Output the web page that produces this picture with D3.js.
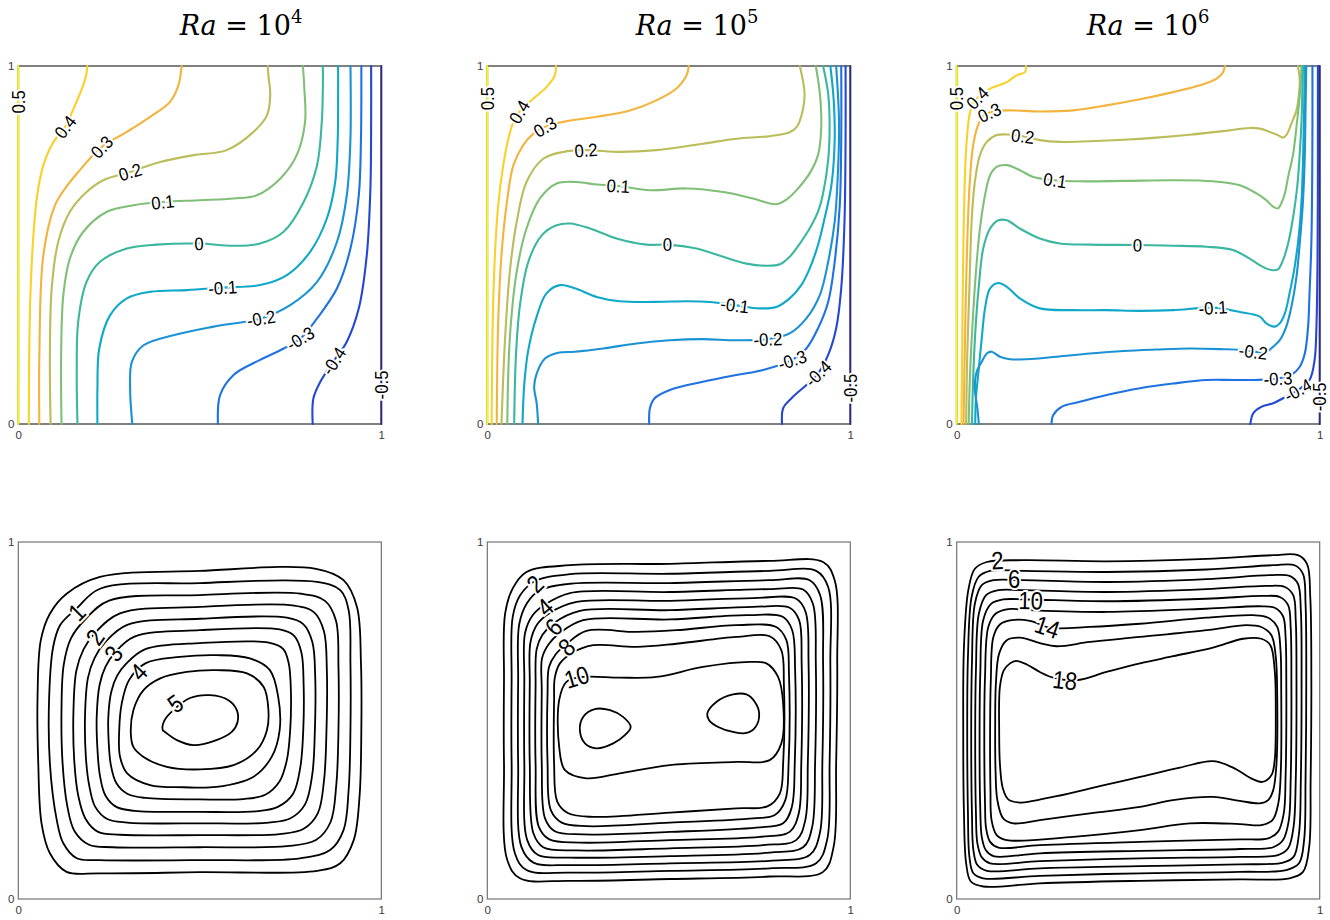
<!DOCTYPE html>
<html><head><meta charset="utf-8">
<script src="https://cdn.jsdelivr.net/npm/d3@7"></script>
<style>body{margin:0;background:#fff}svg{display:block}</style>
</head><body><svg id="c" width="1330" height="920"></svg>
<script>
// ---------------- DATA (unit-square coordinates) ----------------
const raExponents = ["4", "5", "6"];
const tempLevels = [0.5, 0.4, 0.3, 0.2, 0.1, 0, -0.1, -0.2, -0.3, -0.4, -0.5];
const axisTicks = [0, 1];

const tempRa1e4 = [
 {level:0.5, pts:[[0,0],[0,1]]},
 {level:0.4, pts:[[0.029,0],[0.030,0.193],[0.034,0.379],[0.041,0.518],[0.052,0.639],[0.069,0.723],[0.097,0.788],[0.129,0.830],[0.156,0.890],[0.177,0.941],[0.187,0.974],[0.190,1]]},
 {level:0.3, pts:[[0.058,0],[0.058,0.193],[0.069,0.472],[0.101,0.611],[0.129,0.658],[0.165,0.704],[0.230,0.774],[0.299,0.816],[0.363,0.858],[0.418,0.900],[0.441,0.946],[0.450,1]]},
 {level:0.2, pts:[[0.089,0],[0.087,0.193],[0.092,0.379],[0.110,0.509],[0.142,0.593],[0.188,0.648],[0.234,0.681],[0.308,0.704],[0.391,0.732],[0.483,0.751],[0.574,0.765],[0.648,0.816],[0.685,0.862],[0.694,0.918],[0.689,0.974],[0.687,1]]},
 {level:0.1, pts:[[0.119,0],[0.118,0.193],[0.124,0.360],[0.142,0.462],[0.179,0.537],[0.244,0.593],[0.317,0.611],[0.398,0.620],[0.501,0.625],[0.593,0.630],[0.657,0.639],[0.722,0.686],[0.767,0.751],[0.790,0.844],[0.788,0.937],[0.784,1]]},
 {level:0, pts:[[0.163,0],[0.161,0.146],[0.165,0.286],[0.188,0.397],[0.225,0.453],[0.299,0.490],[0.381,0.501],[0.498,0.504],[0.593,0.498],[0.666,0.504],[0.731,0.537],[0.786,0.620],[0.823,0.723],[0.836,0.844],[0.839,0.937],[0.839,1]]},
 {level:-0.1, pts:[[0.218,0],[0.218,0.100],[0.223,0.211],[0.253,0.304],[0.299,0.351],[0.363,0.369],[0.464,0.374],[0.563,0.381],[0.666,0.388],[0.740,0.416],[0.804,0.481],[0.850,0.574],[0.873,0.676],[0.880,0.797],[0.881,0.918],[0.881,1]]},
 {level:-0.2, pts:[[0.314,0],[0.308,0.100],[0.313,0.174],[0.345,0.220],[0.427,0.248],[0.538,0.272],[0.669,0.295],[0.749,0.332],[0.823,0.397],[0.878,0.509],[0.905,0.639],[0.915,0.797],[0.915,1]]},
 {level:-0.3, pts:[[0.550,0],[0.556,0.081],[0.593,0.137],[0.666,0.179],[0.731,0.211],[0.777,0.239],[0.823,0.295],[0.878,0.379],[0.915,0.490],[0.938,0.639],[0.944,0.797],[0.945,1]]},
 {level:-0.4, pts:[[0.811,0],[0.813,0.072],[0.832,0.118],[0.869,0.176],[0.905,0.230],[0.938,0.323],[0.960,0.472],[0.970,0.658],[0.972,0.844],[0.972,1]]},
 {level:-0.5, pts:[[1,0],[1,1]]}
];
const tempLabelsRa1e4 = [[0.5,0,0.9],[0.4,0.129,0.830],[0.3,0.230,0.774],[0.2,0.308,0.704],[0.1,0.398,0.620],[0,0.498,0.504],[-0.1,0.563,0.381],[-0.2,0.669,0.295],[-0.3,0.777,0.239],[-0.4,0.869,0.176],[-0.5,1,0.109]];

const tempRa1e5 = [
 {level:0.5, pts:[[0,0],[0,1]]},
 {level:0.4, pts:[[0.012,0],[0.015,0.286],[0.021,0.472],[0.030,0.611],[0.044,0.723],[0.058,0.797],[0.072,0.844],[0.088,0.872],[0.127,0.909],[0.163,0.941],[0.186,0.974],[0.189,1]]},
 {level:0.3, pts:[[0.026,0],[0.030,0.286],[0.039,0.472],[0.053,0.611],[0.072,0.723],[0.099,0.779],[0.127,0.811],[0.159,0.830],[0.209,0.844],[0.301,0.858],[0.393,0.876],[0.466,0.904],[0.521,0.937],[0.549,0.974],[0.555,1]]},
 {level:0.2, pts:[[0.039,0],[0.049,0.239],[0.062,0.425],[0.081,0.565],[0.108,0.676],[0.154,0.741],[0.209,0.760],[0.272,0.765],[0.365,0.760],[0.466,0.765],[0.594,0.783],[0.686,0.797],[0.778,0.804],[0.833,0.815],[0.852,0.829],[0.869,0.876],[0.874,0.924],[0.861,1]]},
 {level:0.1, pts:[[0.055,0],[0.062,0.239],[0.081,0.425],[0.108,0.546],[0.145,0.630],[0.191,0.672],[0.246,0.676],[0.301,0.669],[0.361,0.665],[0.448,0.653],[0.549,0.658],[0.650,0.648],[0.732,0.630],[0.796,0.614],[0.828,0.630],[0.856,0.658],[0.888,0.700],[0.911,0.751],[0.920,0.830],[0.916,0.924],[0.905,1]]},
 {level:0, pts:[[0.074,0],[0.079,0.193],[0.090,0.332],[0.113,0.453],[0.150,0.527],[0.191,0.555],[0.228,0.560],[0.283,0.546],[0.356,0.518],[0.439,0.501],[0.496,0.501],[0.576,0.490],[0.650,0.467],[0.714,0.448],[0.769,0.442],[0.806,0.446],[0.833,0.467],[0.861,0.504],[0.888,0.546],[0.911,0.593],[0.925,0.644],[0.939,0.737],[0.943,0.830],[0.939,0.923],[0.925,1]]},
 {level:-0.1, pts:[[0.097,0],[0.102,0.113],[0.113,0.207],[0.136,0.300],[0.163,0.365],[0.200,0.388],[0.241,0.379],[0.301,0.355],[0.365,0.343],[0.457,0.341],[0.549,0.343],[0.613,0.341],[0.682,0.332],[0.750,0.323],[0.796,0.327],[0.833,0.351],[0.865,0.388],[0.888,0.434],[0.911,0.500],[0.929,0.574],[0.948,0.667],[0.957,0.797],[0.954,0.909],[0.945,1]]},
 {level:-0.2, pts:[[0.140,0],[0.136,0.058],[0.129,0.104],[0.136,0.141],[0.159,0.183],[0.195,0.199],[0.241,0.202],[0.319,0.211],[0.411,0.225],[0.503,0.234],[0.594,0.237],[0.686,0.234],[0.773,0.237],[0.833,0.253],[0.879,0.295],[0.916,0.360],[0.939,0.453],[0.957,0.565],[0.966,0.704],[0.969,0.844],[0.961,1]]},
 {level:-0.3, pts:[[0.446,0],[0.448,0.044],[0.461,0.072],[0.503,0.095],[0.594,0.118],[0.686,0.137],[0.760,0.151],[0.840,0.179],[0.879,0.211],[0.911,0.267],[0.939,0.341],[0.957,0.453],[0.971,0.611],[0.975,0.797],[0.975,1]]},
 {level:-0.4, pts:[[0.812,0],[0.815,0.044],[0.838,0.072],[0.879,0.109],[0.911,0.141],[0.939,0.193],[0.961,0.267],[0.975,0.379],[0.984,0.565],[0.987,0.797],[0.987,1]]},
 {level:-0.5, pts:[[1,0],[1,1]]}
];
const tempLabelsRa1e5 = [[0.5,0,0.909],[0.4,0.088,0.872],[0.3,0.159,0.830],[0.2,0.272,0.765],[0.1,0.361,0.665],[0,0.496,0.501],[-0.1,0.682,0.332],[-0.2,0.773,0.237],[-0.3,0.840,0.179],[-0.4,0.911,0.141],[-0.5,1,0.100]];

const tempRa1e6 = [
 {level:0.5, pts:[[0,0],[0,1]]},
 {level:0.4, pts:[[0.013,0],[0.015,0.193],[0.018,0.472],[0.023,0.704],[0.028,0.797],[0.035,0.862],[0.046,0.900],[0.057,0.911],[0.092,0.937],[0.138,0.955],[0.165,0.974],[0.188,0.983],[0.191,1]]},
 {level:0.3, pts:[[0.019,0],[0.022,0.193],[0.028,0.472],[0.035,0.658],[0.044,0.769],[0.057,0.830],[0.073,0.862],[0.090,0.870],[0.138,0.876],[0.229,0.873],[0.321,0.876],[0.413,0.890],[0.505,0.907],[0.596,0.927],[0.670,0.946],[0.716,0.965],[0.734,0.983],[0.739,1]]},
 {level:0.2, pts:[[0.026,0],[0.029,0.193],[0.035,0.379],[0.041,0.565],[0.050,0.676],[0.064,0.751],[0.083,0.788],[0.110,0.807],[0.147,0.808],[0.182,0.804],[0.229,0.793],[0.284,0.788],[0.367,0.790],[0.459,0.794],[0.550,0.800],[0.642,0.808],[0.734,0.818],[0.807,0.827],[0.835,0.825],[0.862,0.816],[0.885,0.807],[0.899,0.800],[0.908,0.807],[0.922,0.839],[0.936,0.876],[0.943,0.923],[0.945,0.960],[0.940,1]]},
 {level:0.1, pts:[[0.033,0],[0.037,0.146],[0.044,0.286],[0.053,0.425],[0.064,0.546],[0.078,0.639],[0.092,0.695],[0.110,0.718],[0.138,0.723],[0.174,0.709],[0.211,0.690],[0.271,0.681],[0.339,0.678],[0.459,0.679],[0.596,0.681],[0.706,0.678],[0.780,0.667],[0.826,0.644],[0.853,0.625],[0.872,0.607],[0.885,0.602],[0.894,0.616],[0.904,0.644],[0.913,0.690],[0.927,0.755],[0.936,0.830],[0.943,0.895],[0.947,0.941],[0.950,1]]},
 {level:0, pts:[[0.042,0],[0.046,0.146],[0.053,0.286],[0.062,0.397],[0.073,0.490],[0.092,0.546],[0.115,0.569],[0.138,0.569],[0.174,0.546],[0.229,0.518],[0.284,0.504],[0.367,0.501],[0.498,0.500],[0.596,0.498],[0.688,0.495],[0.761,0.486],[0.807,0.462],[0.839,0.441],[0.867,0.430],[0.885,0.432],[0.899,0.458],[0.913,0.504],[0.927,0.579],[0.938,0.662],[0.945,0.755],[0.950,0.848],[0.952,0.923],[0.954,1]]},
 {level:-0.1, pts:[[0.051,0],[0.053,0.072],[0.060,0.146],[0.069,0.239],[0.078,0.323],[0.092,0.379],[0.115,0.394],[0.138,0.383],[0.174,0.351],[0.229,0.323],[0.321,0.318],[0.413,0.318],[0.505,0.316],[0.596,0.318],[0.706,0.325],[0.780,0.313],[0.835,0.300],[0.853,0.281],[0.876,0.272],[0.890,0.281],[0.904,0.309],[0.917,0.365],[0.931,0.439],[0.943,0.532],[0.950,0.625],[0.954,0.737],[0.957,0.876],[0.959,1]]},
 {level:-0.2, pts:[[0.061,0],[0.057,0.044],[0.050,0.100],[0.055,0.146],[0.069,0.174],[0.083,0.197],[0.096,0.202],[0.119,0.188],[0.147,0.181],[0.193,0.181],[0.275,0.188],[0.367,0.197],[0.459,0.204],[0.550,0.208],[0.642,0.211],[0.734,0.209],[0.780,0.207],[0.817,0.202],[0.853,0.202],[0.872,0.216],[0.890,0.234],[0.908,0.272],[0.922,0.327],[0.936,0.411],[0.945,0.504],[0.954,0.625],[0.959,0.755],[0.961,0.876],[0.963,1]]},
 {level:-0.3, pts:[[0.261,0],[0.266,0.025],[0.289,0.048],[0.339,0.062],[0.413,0.081],[0.505,0.100],[0.596,0.113],[0.688,0.123],[0.761,0.123],[0.817,0.123],[0.885,0.127],[0.927,0.141],[0.945,0.160],[0.959,0.197],[0.968,0.272],[0.972,0.365],[0.977,0.504],[0.979,0.644],[0.980,0.830],[0.980,1]]},
 {level:-0.4, pts:[[0.809,0],[0.817,0.030],[0.839,0.048],[0.872,0.058],[0.899,0.072],[0.940,0.095],[0.972,0.123],[0.986,0.179],[0.991,0.272],[0.994,0.458],[0.995,0.737],[0.995,1]]},
 {level:-0.5, pts:[[1,0],[1,1]]}
];
const tempLabelsRa1e6 = [[0.5,0,0.909],[0.4,0.057,0.911],[0.3,0.090,0.870],[0.2,0.182,0.804],[0.1,0.271,0.681],[0,0.498,0.500],[-0.1,0.706,0.325],[-0.2,0.817,0.202],[-0.3,0.885,0.127],[-0.4,0.940,0.095],[-0.5,1,0.076]];

// streamfunction contours (closed loops)
const psiRa1e4 = [
 {level:0.5, pts:[[0.225,0.902],[0.50,0.919],[0.82,0.925],[0.896,0.893],[0.933,0.818],[0.944,0.66],[0.945,0.473],[0.940,0.286],[0.924,0.165],[0.887,0.100],[0.823,0.079],[0.50,0.075],[0.225,0.072],[0.133,0.076],[0.087,0.128],[0.064,0.212],[0.055,0.38],[0.053,0.566],[0.062,0.725],[0.087,0.799],[0.133,0.855]]},
 {level:1, pts:[[0.225,0.869],[0.50,0.885],[0.823,0.888],[0.887,0.865],[0.910,0.809],[0.915,0.66],[0.915,0.473],[0.910,0.305],[0.896,0.193],[0.859,0.137],[0.776,0.114],[0.50,0.109],[0.225,0.109],[0.161,0.114],[0.124,0.156],[0.106,0.221],[0.087,0.38],[0.085,0.566],[0.096,0.706],[0.115,0.767],[0.161,0.814]]},
 {level:1.5, pts:[[0.25,0.836],[0.50,0.851],[0.78,0.855],[0.845,0.835],[0.875,0.78],[0.882,0.65],[0.882,0.473],[0.876,0.32],[0.86,0.215],[0.82,0.165],[0.74,0.148],[0.50,0.145],[0.26,0.145],[0.195,0.152],[0.155,0.19],[0.135,0.26],[0.122,0.38],[0.119,0.53],[0.125,0.655],[0.145,0.73],[0.186,0.785]]},
 {level:2, pts:[[0.28,0.80],[0.50,0.818],[0.76,0.822],[0.815,0.803],[0.842,0.75],[0.850,0.64],[0.849,0.473],[0.842,0.33],[0.825,0.24],[0.785,0.196],[0.72,0.182],[0.50,0.179],[0.28,0.18],[0.22,0.188],[0.185,0.225],[0.165,0.29],[0.154,0.39],[0.152,0.53],[0.160,0.64],[0.180,0.70],[0.211,0.745]]},
 {level:2.5, pts:[[0.30,0.768],[0.50,0.785],[0.74,0.788],[0.785,0.77],[0.81,0.72],[0.818,0.62],[0.817,0.473],[0.81,0.35],[0.79,0.265],[0.75,0.226],[0.69,0.214],[0.50,0.212],[0.30,0.214],[0.245,0.224],[0.212,0.258],[0.195,0.32],[0.186,0.40],[0.184,0.52],[0.192,0.62],[0.21,0.675],[0.24,0.72]]},
 {level:3, pts:[[0.32,0.735],[0.50,0.753],[0.72,0.755],[0.76,0.737],[0.78,0.69],[0.786,0.60],[0.785,0.473],[0.777,0.37],[0.757,0.295],[0.715,0.258],[0.66,0.246],[0.50,0.244],[0.32,0.247],[0.27,0.258],[0.24,0.29],[0.225,0.345],[0.218,0.42],[0.216,0.51],[0.224,0.60],[0.240,0.65],[0.266,0.69]]},
 {level:3.5, pts:[[0.35,0.700],[0.50,0.717],[0.69,0.718],[0.73,0.70],[0.745,0.66],[0.751,0.58],[0.749,0.473],[0.74,0.39],[0.72,0.33],[0.68,0.292],[0.62,0.28],[0.50,0.279],[0.35,0.283],[0.30,0.295],[0.27,0.325],[0.255,0.375],[0.249,0.44],[0.248,0.51],[0.256,0.58],[0.272,0.625],[0.298,0.66]]},
 {level:4, pts:[[0.35,0.66],[0.445,0.678],[0.546,0.683],[0.638,0.674],[0.693,0.641],[0.716,0.566],[0.720,0.473],[0.698,0.398],[0.647,0.342],[0.546,0.314],[0.455,0.313],[0.363,0.319],[0.30,0.352],[0.28,0.40],[0.278,0.473],[0.285,0.548],[0.305,0.613]]},
 {level:4.5, pts:[[0.310,0.464],[0.317,0.529],[0.345,0.585],[0.391,0.618],[0.464,0.636],[0.547,0.641],[0.630,0.632],[0.676,0.594],[0.689,0.529],[0.685,0.473],[0.657,0.417],[0.593,0.375],[0.501,0.363],[0.409,0.370],[0.345,0.398],[0.317,0.426]]},
 {level:5, pts:[[0.398,0.473],[0.402,0.499],[0.427,0.529],[0.473,0.563],[0.528,0.571],[0.579,0.557],[0.602,0.529],[0.604,0.496],[0.588,0.468],[0.538,0.442],[0.483,0.431],[0.437,0.445],[0.404,0.468]]}
];
const psiLabelsRa1e4 = [[1,0.161,0.804],[2,0.211,0.734],[3,0.262,0.688],[4,0.331,0.636],[5,0.432,0.548]];

const psiRa1e5 = [
 {level:1, pts:[[0.049,0.799],[0.070,0.870],[0.108,0.916],[0.228,0.935],[0.503,0.939],[0.778,0.947],[0.925,0.944],[0.957,0.893],[0.964,0.660],[0.961,0.380],[0.954,0.146],[0.925,0.076],[0.778,0.063],[0.503,0.056],[0.228,0.051],[0.090,0.058],[0.055,0.109],[0.046,0.380],[0.046,0.613]]},
 {level:2, pts:[[0.070,0.790],[0.090,0.850],[0.131,0.890],[0.228,0.910],[0.503,0.911],[0.778,0.919],[0.906,0.919],[0.939,0.874],[0.945,0.660],[0.943,0.380],[0.936,0.165],[0.906,0.100],[0.778,0.086],[0.503,0.079],[0.228,0.074],[0.108,0.081],[0.076,0.128],[0.067,0.380],[0.067,0.613]]},
 {level:3, pts:[[0.088,0.770],[0.110,0.830],[0.145,0.865],[0.228,0.883],[0.503,0.885],[0.778,0.893],[0.888,0.893],[0.917,0.851],[0.925,0.660],[0.923,0.380],[0.916,0.184],[0.888,0.123],[0.778,0.107],[0.503,0.100],[0.228,0.095],[0.127,0.102],[0.094,0.146],[0.085,0.380],[0.085,0.613]]},
 {level:4, pts:[[0.104,0.745],[0.125,0.795],[0.159,0.825],[0.228,0.857],[0.503,0.860],[0.778,0.868],[0.870,0.867],[0.897,0.827],[0.905,0.660],[0.903,0.380],[0.895,0.202],[0.870,0.145],[0.778,0.130],[0.503,0.120],[0.228,0.116],[0.140,0.123],[0.110,0.165],[0.102,0.380],[0.102,0.613]]},
 {level:5, pts:[[0.119,0.720],[0.138,0.770],[0.170,0.800],[0.246,0.832],[0.503,0.835],[0.732,0.843],[0.851,0.841],[0.877,0.804],[0.885,0.660],[0.883,0.380],[0.876,0.221],[0.851,0.165],[0.760,0.151],[0.503,0.142],[0.246,0.136],[0.154,0.145],[0.127,0.184],[0.117,0.380],[0.117,0.604]]},
 {level:6, pts:[[0.136,0.700],[0.152,0.740],[0.182,0.772],[0.255,0.807],[0.503,0.809],[0.732,0.818],[0.833,0.816],[0.859,0.781],[0.866,0.660],[0.865,0.380],[0.858,0.240],[0.833,0.188],[0.750,0.174],[0.503,0.165],[0.255,0.158],[0.171,0.167],[0.142,0.202],[0.133,0.380],[0.133,0.594]]},
 {level:7, pts:[[0.151,0.675],[0.170,0.715],[0.200,0.745],[0.264,0.781],[0.503,0.783],[0.714,0.795],[0.815,0.790],[0.840,0.753],[0.848,0.641],[0.847,0.380],[0.839,0.258],[0.815,0.212],[0.741,0.200],[0.503,0.188],[0.264,0.181],[0.186,0.190],[0.159,0.226],[0.150,0.380],[0.150,0.585]]},
 {level:8, pts:[[0.170,0.650],[0.188,0.685],[0.218,0.714],[0.273,0.751],[0.411,0.748],[0.521,0.753],[0.686,0.767],[0.796,0.762],[0.824,0.725],[0.831,0.632],[0.830,0.380],[0.821,0.277],[0.792,0.235],[0.732,0.226],[0.503,0.214],[0.273,0.204],[0.205,0.214],[0.175,0.249],[0.166,0.380],[0.166,0.576]]},
 {level:9, pts:[[0.186,0.620],[0.200,0.660],[0.235,0.690],[0.292,0.711],[0.411,0.706],[0.521,0.715],[0.686,0.734],[0.778,0.736],[0.810,0.697],[0.817,0.604],[0.815,0.380],[0.806,0.296],[0.773,0.260],[0.686,0.254],[0.503,0.242],[0.292,0.230],[0.223,0.240],[0.193,0.272],[0.184,0.380],[0.184,0.557]]},
 {level:10, pts:[[0.198,0.557],[0.218,0.608],[0.264,0.622],[0.365,0.620],[0.466,0.622],[0.594,0.650],[0.723,0.664],[0.769,0.660],[0.801,0.622],[0.815,0.548],[0.810,0.436],[0.778,0.389],[0.686,0.384],[0.503,0.375],[0.365,0.352],[0.273,0.338],[0.214,0.361],[0.198,0.426]]},
 {level:11, pts:[[0.255,0.473],[0.264,0.510],[0.296,0.532],[0.338,0.529],[0.374,0.510],[0.395,0.482],[0.379,0.459],[0.347,0.436],[0.301,0.422],[0.269,0.436]]},
 {level:11, pts:[[0.606,0.520],[0.631,0.552],[0.677,0.573],[0.714,0.573],[0.737,0.552],[0.749,0.520],[0.739,0.482],[0.714,0.465],[0.677,0.468],[0.636,0.482],[0.611,0.501]]}
];
const psiLabelsRa1e5 = [[2,0.131,0.883],[4,0.159,0.818],[6,0.182,0.762],[8,0.218,0.706],[10,0.246,0.622]];

const psiRa1e6 = [
 {level:2, pts:[[0.018,0.473],[0.020,0.706],[0.032,0.865],[0.050,0.925],[0.083,0.944],[0.183,0.949],[0.413,0.946],[0.688,0.953],[0.872,0.963],[0.940,0.963],[0.965,0.939],[0.974,0.846],[0.977,0.613],[0.975,0.333],[0.971,0.146],[0.954,0.076],[0.917,0.058],[0.780,0.055],[0.505,0.051],[0.229,0.044],[0.073,0.035],[0.039,0.049],[0.026,0.100],[0.020,0.240]]},
 {level:4, pts:[[0.029,0.473],[0.031,0.678],[0.041,0.846],[0.060,0.902],[0.092,0.919],[0.183,0.919],[0.413,0.916],[0.688,0.923],[0.872,0.935],[0.931,0.935],[0.954,0.911],[0.961,0.827],[0.963,0.613],[0.961,0.333],[0.957,0.165],[0.943,0.100],[0.908,0.081],[0.780,0.076],[0.505,0.072],[0.229,0.065],[0.073,0.058],[0.046,0.072],[0.035,0.118],[0.031,0.240]]},
 {level:6, pts:[[0.040,0.473],[0.042,0.660],[0.050,0.827],[0.069,0.879],[0.101,0.893],[0.183,0.893],[0.413,0.888],[0.688,0.896],[0.862,0.907],[0.917,0.905],[0.940,0.883],[0.948,0.809],[0.950,0.613],[0.948,0.333],[0.943,0.184],[0.928,0.118],[0.899,0.102],[0.780,0.097],[0.505,0.092],[0.229,0.086],[0.083,0.079],[0.057,0.095],[0.046,0.137],[0.042,0.240]]},
 {level:8, pts:[[0.051,0.473],[0.053,0.641],[0.061,0.799],[0.081,0.851],[0.115,0.865],[0.183,0.865],[0.413,0.860],[0.688,0.868],[0.853,0.877],[0.904,0.874],[0.927,0.851],[0.934,0.781],[0.936,0.613],[0.934,0.333],[0.928,0.202],[0.913,0.142],[0.885,0.123],[0.780,0.118],[0.505,0.114],[0.229,0.106],[0.092,0.100],[0.069,0.117],[0.057,0.156],[0.053,0.240]]},
 {level:10, pts:[[0.063,0.473],[0.065,0.632],[0.073,0.781],[0.094,0.826],[0.128,0.839],[0.193,0.839],[0.413,0.834],[0.688,0.841],[0.844,0.849],[0.890,0.846],[0.913,0.823],[0.920,0.762],[0.922,0.613],[0.920,0.333],[0.915,0.221],[0.899,0.165],[0.872,0.145],[0.780,0.140],[0.505,0.135],[0.229,0.128],[0.101,0.120],[0.080,0.137],[0.069,0.174],[0.065,0.249]]},
 {level:12, pts:[[0.076,0.473],[0.078,0.622],[0.087,0.762],[0.107,0.799],[0.142,0.812],[0.202,0.809],[0.413,0.804],[0.688,0.813],[0.835,0.820],[0.876,0.816],[0.899,0.792],[0.906,0.734],[0.908,0.613],[0.906,0.342],[0.901,0.240],[0.885,0.188],[0.858,0.170],[0.780,0.167],[0.505,0.160],[0.229,0.151],[0.115,0.144],[0.092,0.160],[0.081,0.198],[0.078,0.268]]},
 {level:14, pts:[[0.092,0.473],[0.094,0.613],[0.101,0.734],[0.119,0.769],[0.151,0.781],[0.202,0.779],[0.257,0.760],[0.367,0.762],[0.505,0.771],[0.688,0.788],[0.817,0.795],[0.858,0.788],[0.883,0.762],[0.892,0.697],[0.894,0.585],[0.893,0.361],[0.886,0.268],[0.870,0.221],[0.839,0.207],[0.780,0.210],[0.642,0.212],[0.505,0.193],[0.321,0.174],[0.138,0.165],[0.110,0.179],[0.096,0.221],[0.093,0.305]]},
 {level:16, pts:[[0.106,0.473],[0.108,0.604],[0.117,0.688],[0.138,0.725],[0.174,0.732],[0.229,0.717],[0.275,0.708],[0.367,0.720],[0.505,0.734],[0.688,0.753],[0.798,0.767],[0.839,0.762],[0.867,0.739],[0.879,0.678],[0.883,0.566],[0.881,0.380],[0.872,0.305],[0.858,0.277],[0.835,0.268],[0.780,0.275],[0.706,0.286],[0.596,0.277],[0.505,0.258],[0.367,0.240],[0.229,0.221],[0.156,0.212],[0.128,0.226],[0.112,0.277],[0.107,0.361]]},
 {level:18, pts:[[0.117,0.473],[0.119,0.594],[0.130,0.641],[0.147,0.660],[0.163,0.667],[0.193,0.657],[0.229,0.636],[0.266,0.620],[0.330,0.613],[0.413,0.636],[0.505,0.660],[0.596,0.680],[0.706,0.704],[0.789,0.729],[0.839,0.729],[0.864,0.711],[0.876,0.641],[0.879,0.520],[0.876,0.389],[0.867,0.347],[0.842,0.328],[0.817,0.335],[0.761,0.368],[0.706,0.386],[0.615,0.368],[0.505,0.342],[0.394,0.316],[0.275,0.288],[0.211,0.275],[0.174,0.270],[0.142,0.279],[0.127,0.310],[0.119,0.380]]}
];
const psiLabelsRa1e6 = [[2,0.112,0.949],[6,0.158,0.897],[10,0.204,0.837],[14,0.250,0.762],[18,0.298,0.613]];

// ---------------- RENDERING ----------------
const svg = d3.select("#c");
const parula = ["#f9fb0e","#f8d12a","#f2b43e","#bbbc5a","#80bf78","#3bb69f","#10a8c8","#1a92d4","#1f72e0","#2447d4","#2e2a80"];
const tempColor = d3.scaleOrdinal(tempLevels, parula);

const panelLefts = [18.3, 487.3, 956.7];
const panelW = 363;
const rows = [{top: 66, h: 358}, {top: 542, h: 357}];
const titleCenters = [241, 697, 1148];

const tempSets = [[tempRa1e4, tempLabelsRa1e4],[tempRa1e5, tempLabelsRa1e5],[tempRa1e6, tempLabelsRa1e6]];
const psiSets = [[psiRa1e4, psiLabelsRa1e4],[psiRa1e5, psiLabelsRa1e5],[psiRa1e6, psiLabelsRa1e6]];

function makePanel(left, top, w, h, frameW) {
  const g = svg.append("g").attr("transform", `translate(${left},${top})`);
  const x = d3.scaleLinear([0, 1], [0, w]);
  const y = d3.scaleLinear([0, 1], [h, 0]);
  g.append("rect").attr("width", w).attr("height", h)
    .attr("fill", "none").attr("stroke", "#737373").attr("stroke-width", frameW);
  const ax = g.append("g").attr("transform", `translate(0,${h})`)
    .call(d3.axisBottom(x).tickValues(axisTicks).tickFormat(d3.format("d")).tickSize(0).tickPadding(7));
  const ay = g.append("g")
    .call(d3.axisLeft(y).tickValues(axisTicks).tickFormat(d3.format("d")).tickSize(0).tickPadding(4));
  [ax, ay].forEach(a => {
    a.select(".domain").remove();
    a.selectAll("text").attr("fill", "#3a3a3a").style("font-family", "Liberation Sans, Arial, sans-serif").style("font-size", "11.5px");
  });
  return {g, x, y};
}

function labelAngle(P, closed, px, py) {
  let best = Infinity, ang = 0;
  const n = P.length, segs = closed ? n : n - 1;
  for (let i = 0; i < segs; i++) {
    const a = P[i], b = P[(i + 1) % n];
    const dx = b[0] - a[0], dy = b[1] - a[1];
    const L2 = dx * dx + dy * dy || 1;
    let t = ((px - a[0]) * dx + (py - a[1]) * dy) / L2;
    t = Math.max(0, Math.min(1, t));
    const qx = a[0] + t * dx - px, qy = a[1] + t * dy - py;
    const d = qx * qx + qy * qy;
    if (d < best) { best = d; ang = Math.atan2(dy, dx) * 180 / Math.PI; }
  }
  if (ang >= 90) ang -= 180;
  if (ang < -90) ang += 180;
  return ang;
}

function drawLabels(g, x, y, contours, labels, closed, fs, sx) {
  labels.forEach(([lev, lx, ly]) => {
    const c = contours.find(k => k.level === lev);
    const P = c.pts.map(p => [x(p[0]), y(p[1])]);
    const px = x(lx), py = y(ly);
    const ang = labelAngle(P, closed, px, py);
    g.append("text")
      .attr("transform", `translate(${px},${py}) rotate(${ang}) scale(${sx},1)`)
      .attr("text-anchor", "middle").attr("dy", "0.36em")
      .style("font-family", "Liberation Sans, Arial, sans-serif")
      .style("font-size", fs + "px")
      .attr("fill", "#000")
      .attr("stroke", "#fff").attr("stroke-width", 4).attr("paint-order", "stroke")
      .text(String(lev));
  });
}

// top row: temperature
tempSets.forEach(([contours, labels], i) => {
  const {g, x, y} = makePanel(panelLefts[i], rows[0].top, panelW, rows[0].h, 1.8);
  const line = d3.line().x(d => x(d[0])).y(d => y(d[1])).curve(d3.curveCatmullRom.alpha(0.5));
  g.selectAll("path.iso").data(contours).join("path").attr("class", "iso")
    .attr("d", d => line(d.pts)).attr("fill", "none")
    .attr("stroke", d => tempColor(d.level))
    .attr("stroke-width", d => Math.abs(d.level) === 0.5 ? 1.8 : 2.1)
    .attr("stroke-linejoin", "round").attr("stroke-linecap", "round");
  drawLabels(g, x, y, contours, labels, false, 18, 0.93);
});

// bottom row: streamfunction
psiSets.forEach(([contours, labels], i) => {
  const {g, x, y} = makePanel(panelLefts[i], rows[1].top, panelW, rows[1].h, 1.2);
  const line = d3.line().x(d => x(d[0])).y(d => y(d[1])).curve(d3.curveCatmullRomClosed.alpha(0.5));
  g.selectAll("path.psi").data(contours).join("path").attr("class", "psi")
    .attr("d", d => line(d.pts)).attr("fill", "none")
    .attr("stroke", "#000").attr("stroke-width", 1.8).attr("stroke-linejoin", "round");
  drawLabels(g, x, y, contours, labels, true, 25, 0.88);
});

// titles
raExponents.forEach((e, i) => {
  const t = svg.append("text").attr("x", titleCenters[i]).attr("y", 35)
    .attr("text-anchor", "middle")
    .style("font-family", "DejaVu Serif, serif").style("font-size", "27px").attr("fill", "#000")
    .attr("xml:space", "preserve");
  t.append("tspan").style("font-style", "italic").text("Ra");
  t.append("tspan").text(" = 10");
  t.append("tspan").attr("dy", -12).style("font-size", "18px").text(e);
});
</script>
</body></html>
